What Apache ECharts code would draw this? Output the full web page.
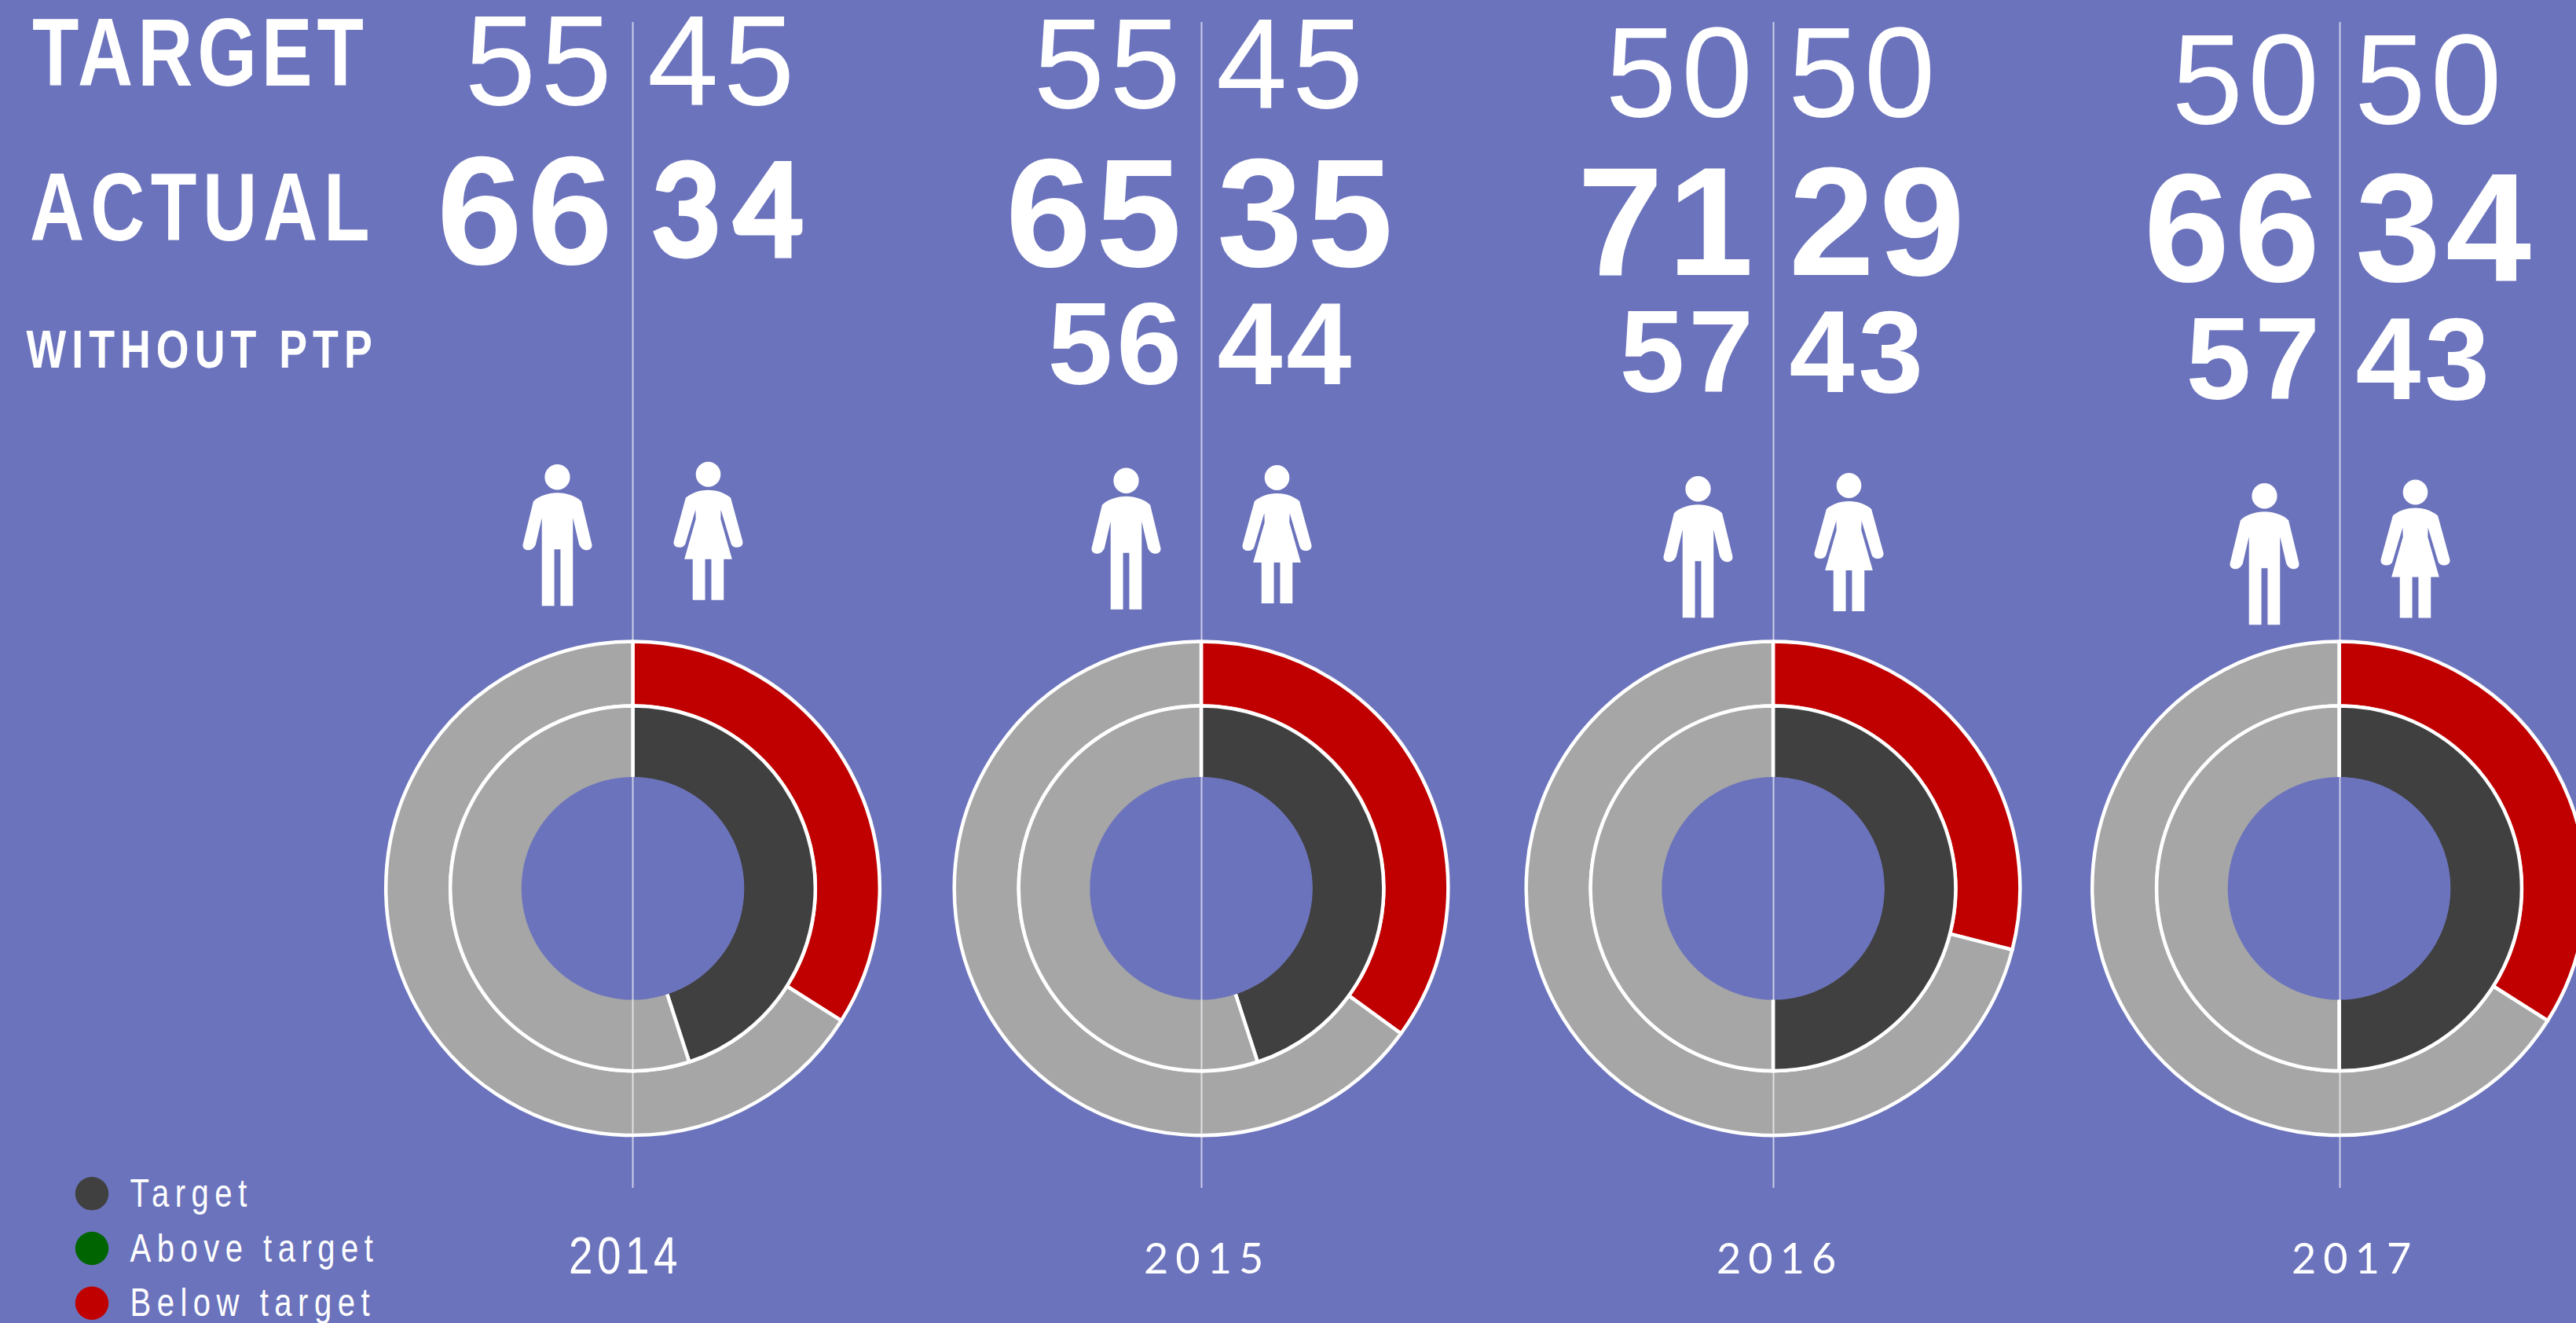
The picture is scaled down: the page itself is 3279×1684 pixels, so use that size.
<!DOCTYPE html>
<html><head><meta charset="utf-8">
<style>html,body{margin:0;padding:0;background:#6b73bc;overflow:hidden}#c{width:3279px;height:1684px}</style>
<script src="https://cdn.jsdelivr.net/npm/echarts@6/dist/echarts.min.js"></script>
</head><body><div id="c"></div>
<script>
const years = ['2014','2015','2016','2017'];
const targetMen = [55,55,50,50];
const targetWomen = [45,45,50,50];
const actualMen = [66,65,71,66];
const actualWomen = [34,35,29,34];
const withoutMen = [null,56,57,57];
const withoutWomen = [null,44,43,43];
const rowLabels = ['TARGET','ACTUAL','WITHOUT PTP'];
const legendNames = ['Target','Above target','Below target'];
const legendColors = ['#404040','#006400','#c00000'];

const BG='#6b73bc', GREY='#a6a6a6', DARK='#404040', RED='#c00000';
const lineX=[805.5,1529.5,2257.5,2978.5], ringX=[805.5,1529,2257,2977.5], cy=1130.8;
const baseT=[133,137,148,156.5], baseA=[336,339,350,358.5], baseW=[0,489,499.3,508];
const topMan=[591,595.5,606,615], topWoman=[587.7,592,602,610.5];
const yearX=[724,1456,2185,2917];

const MAN='M0 -16.3A16.3 16.3 0 1 1 0 16.3A16.3 16.3 0 1 1 0 -16.3ZM0 20C-12 20 -24 24 -31 31L-44 84C-46 90 -42 93 -37 93C-33 93 -30 90 -28 86L-20 52L-20 164L-4 164L-4 92L4 92L4 164L20 164L20 52L28 86C30 90 33 93 37 93C42 93 46 90 44 84L31 31C24 24 12 20 0 20Z';
const WOMAN='M0 -16A16 16 0 1 1 0 16A16 16 0 1 1 0 -16ZM0 20C-12 20 -22 24 -29 30L-44 84C-46 90 -42 93 -37 93C-33 93 -30 91 -29 87L-16.3 45L-16 57L-30.7 108L-20 108L-20 160L-4 160L-4 108L4 108L4 160L20 160L20 108L30.7 108L16 57L16.3 45L29 87C30 91 33 93 37 93C42 93 46 90 44 84L29 30C22 24 12 20 0 20Z';

const spacing={};
function txt(s,x,base,fs,sx,weight,ls,family,strokeW){
  if(ls) spacing[s+'|'+fs]=ls;
  const k=family==='Lato'?0.387:0.3465;
  const style={text:s,fill:'#fff',font:(weight||'normal')+' '+fs+'px "'+(family||'Liberation Sans')+'"',align:'left',verticalAlign:'middle',lineHeight:Math.round(fs*0.8)};
  if(strokeW){style.stroke='#fff';style.lineWidth=strokeW;style.lineJoin='round';}
  return {type:'text',silent:true,x:x,y:base-k*fs,scaleX:sx,originX:0,originY:0,style:style};
}
const series=[],graphic=[],icons=[];
years.forEach((y,i)=>{
  const x=lineX[i], c=[ringX[i],cy];
  const mk=(val,color)=>[{value:val,itemStyle:{color:color}},{value:100-val,itemStyle:{color:GREY}}];
  const base={type:'pie',center:c,silent:true,animation:false,startAngle:90,clockwise:true,
    label:{show:false},labelLine:{show:false},itemStyle:{borderColor:'#fff',borderWidth:4.5}};
  series.push(Object.assign({},base,{radius:[232.3,314.3],data:mk(actualWomen[i],RED)}));
  series.push(Object.assign({},base,{radius:[139,232.3],data:mk(targetWomen[i],DARK)}));
  graphic.push({type:'circle',silent:true,z:50,shape:{cx:c[0],cy:c[1],r:141.8},style:{fill:BG}});
  graphic.push({type:'line',silent:true,z:60,shape:{x1:x,y1:28,x2:x,y2:1512},style:{stroke:'rgba(255,255,255,0.65)',lineWidth:2}});
  graphic.push(txt(String(targetMen[i]),x-214,baseT[i],163,1.0,'normal',6));
  graphic.push(txt(String(targetWomen[i]),x+18.5,baseT[i],163,1.0,'normal',6));
  graphic.push(txt(String(actualMen[i]),x-249.5,baseA[i],196,1.0,'bold',6));
  if(i===0) graphic.push(txt(String(actualWomen[i]),x+23.7,326.5,162.5,0.94,'bold',17.6,'Lato',5));
  else graphic.push(txt(String(actualWomen[i]),x+19.5,baseA[i],196,1.0,'bold',6));
  if(withoutMen[i]!=null){
    graphic.push(txt(String(withoutMen[i]),x-196,baseW[i],149,1.0,'bold',4.8));
    graphic.push(txt(String(withoutWomen[i]),x+20,baseW[i],149,1.0,'bold',4.8));
  }
  icons.push({path:MAN,x:x-96-44,y:topMan[i],w:88,h:180.3});
  icons.push({path:WOMAN,x:x+96-44,y:topWoman[i],w:88,h:176});
  if(i===0) graphic.push(txt(y,yearX[i],1621.5,67,0.82,'normal',6.7));
  else graphic.push(txt(y,yearX[i],1621,54,1,'normal',9,'Lato'));
});
series.push({type:'custom',coordinateSystem:'none',silent:true,animation:false,z:70,
  data:icons.map((_,k)=>k),
  renderItem:(p)=>{const o=icons[p.dataIndex];
    return {type:'path',shape:{pathData:o.path,x:o.x,y:o.y,width:o.w,height:o.h,layout:'cover'},style:{fill:'#fff'}};}});
graphic.push(txt(rowLabels[0],41,108.7,123,0.79,'bold',7.5));
graphic.push(txt(rowLabels[1],38,306,123,0.78,'bold',9.8));
graphic.push(txt(rowLabels[2],33.5,468,68,0.79,'bold',8.9));
const legendY=[1519.3,1589,1658.7];
legendNames.forEach((n,i)=>{
  graphic.push({type:'circle',silent:true,shape:{cx:117,cy:legendY[i],r:21.2},style:{fill:legendColors[i]}});
  graphic.push(txt(n,165.5,legendY[i]+17,50,0.8,'normal',9.4));
});
const chart=echarts.init(document.getElementById('c'),null,{renderer:'svg',width:3279,height:1684});
chart.setOption({animation:false,backgroundColor:BG,tooltip:{show:false},series:series,graphic:graphic});
function applySpacing(){document.querySelectorAll('#c text').forEach(t=>{const k=t.textContent+'|'+parseFloat(t.style.fontSize||getComputedStyle(t).fontSize);const s=spacing[k];if(s)t.style.letterSpacing=s+'px';});}
applySpacing();chart.on('finished',applySpacing);
</script></body></html>
